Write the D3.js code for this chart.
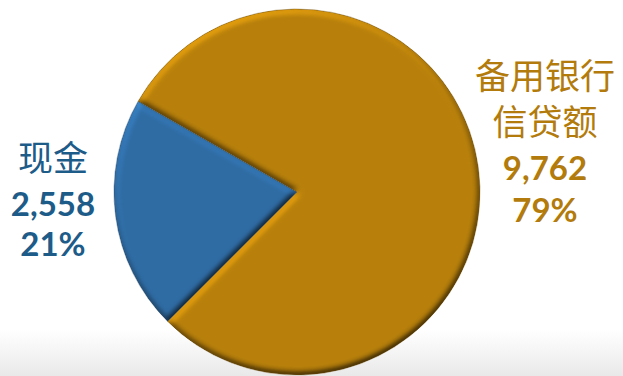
<!DOCTYPE html>
<html>
<head>
<meta charset="utf-8">
<script src="https://cdn.jsdelivr.net/npm/d3@7/dist/d3.min.js"></script>
<style>
  html, body { margin: 0; padding: 0; background: #fff; }
  svg { display: block; }
</style>
</head>
<body>
<svg id="chart" width="623" height="376"></svg>
<script>
// Funding sources: cash vs. undrawn bank credit lines
const categories = ["现金", "备用银行信贷额"];
const labelLines = [["现金"], ["备用银行", "信贷额"]];
const values = [2558, 9762];
const percentLabels = ["21%", "79%"];
const sliceColors = ["#2f6ca4", "#b8800b"];
const textColors = ["#1d5b89", "#b27b0b"];

const W = 623, H = 376;
const cx = 297, cy = 192, R = 183;

const svg = d3.select("#chart");
const defs = svg.append("defs");

// floor gradient along the bottom of the slide
const floor = defs.append("linearGradient")
  .attr("id", "floor").attr("x1", 0).attr("y1", 0).attr("x2", 0).attr("y2", 1);
floor.append("stop").attr("offset", "0%").attr("stop-color", "#ffffff");
floor.append("stop").attr("offset", "100%").attr("stop-color", "#e9e9e9");
svg.append("rect").attr("x", 0).attr("y", 330).attr("width", W).attr("height", H - 330)
  .attr("fill", "url(#floor)");

// bevel: lit blurred alpha multiplied into each slice
const elev = 56;
const f = defs.append("filter").attr("id", "bevel")
  .attr("x", "-10%").attr("y", "-10%").attr("width", "120%").attr("height", "120%")
  .attr("color-interpolation-filters", "sRGB");
f.append("feGaussianBlur").attr("in", "SourceAlpha").attr("stdDeviation", 3).attr("result", "b");
const lit = f.append("feDiffuseLighting").attr("in", "b").attr("surfaceScale", 3)
  .attr("diffuseConstant", 1).attr("lighting-color", "#fff").attr("result", "d");
lit.append("feDistantLight").attr("azimuth", 245).attr("elevation", elev);
f.append("feComposite").attr("in", "SourceGraphic").attr("in2", "d")
  .attr("operator", "arithmetic").attr("k1", 1 / Math.sin(elev * Math.PI / 180))
  .attr("k2", 0).attr("k3", 0).attr("k4", 0)
  .attr("result", "shaded");
f.append("feComposite").attr("in", "shaded").attr("in2", "SourceAlpha").attr("operator", "in");

const pie = d3.pie().sort(null).value(d => d)
  .startAngle(Math.PI * 1.25).endAngle(Math.PI * 3.25);
const arc = d3.arc().innerRadius(0).outerRadius(R);
const arcs = pie(values);

const g = svg.append("g").attr("transform", `translate(${cx},${cy})`);
g.selectAll("path.slice").data(arcs).join("path")
  .attr("class", "slice")
  .attr("d", arc)
  .attr("fill", (d, i) => sliceColors[i])
  .attr("filter", "url(#bevel)");
g.selectAll("path.edge").data(arcs).join("path")
  .attr("class", "edge")
  .attr("d", arc)
  .attr("fill", "none")
  .attr("stroke", (d, i) => d3.color(sliceColors[i]).darker(1.4))
  .attr("stroke-width", 0.7)
  .attr("stroke-opacity", 0.6);

// labels
const fmt = d3.format(",");
const labelPos = [{ x: 53, y: [171, 216, 256] }, { x: 545, y: [89, 135, 180, 222] }];
arcs.forEach((a, i) => {
  const lines = labelLines[i];
  const p = labelPos[i];
  const t = svg.append("g").attr("fill", textColors[i]).attr("text-anchor", "middle");
  lines.forEach((s, k) => {
    t.append("text").attr("x", p.x).attr("y", p.y[k])
      .attr("font-family", "'Noto Sans CJK SC', sans-serif")
      .attr("font-size", 35).text(s);
  });
  t.append("text").attr("x", p.x).attr("y", p.y[lines.length])
    .attr("font-family", "Lato, sans-serif").attr("font-weight", 700)
    .attr("font-size", 33).text(fmt(values[i]));
  t.append("text").attr("x", p.x).attr("y", p.y[lines.length + 1])
    .attr("font-family", "Lato, sans-serif").attr("font-weight", 700)
    .attr("font-size", 33).text(percentLabels[i]);
});
</script>
</body>
</html>
